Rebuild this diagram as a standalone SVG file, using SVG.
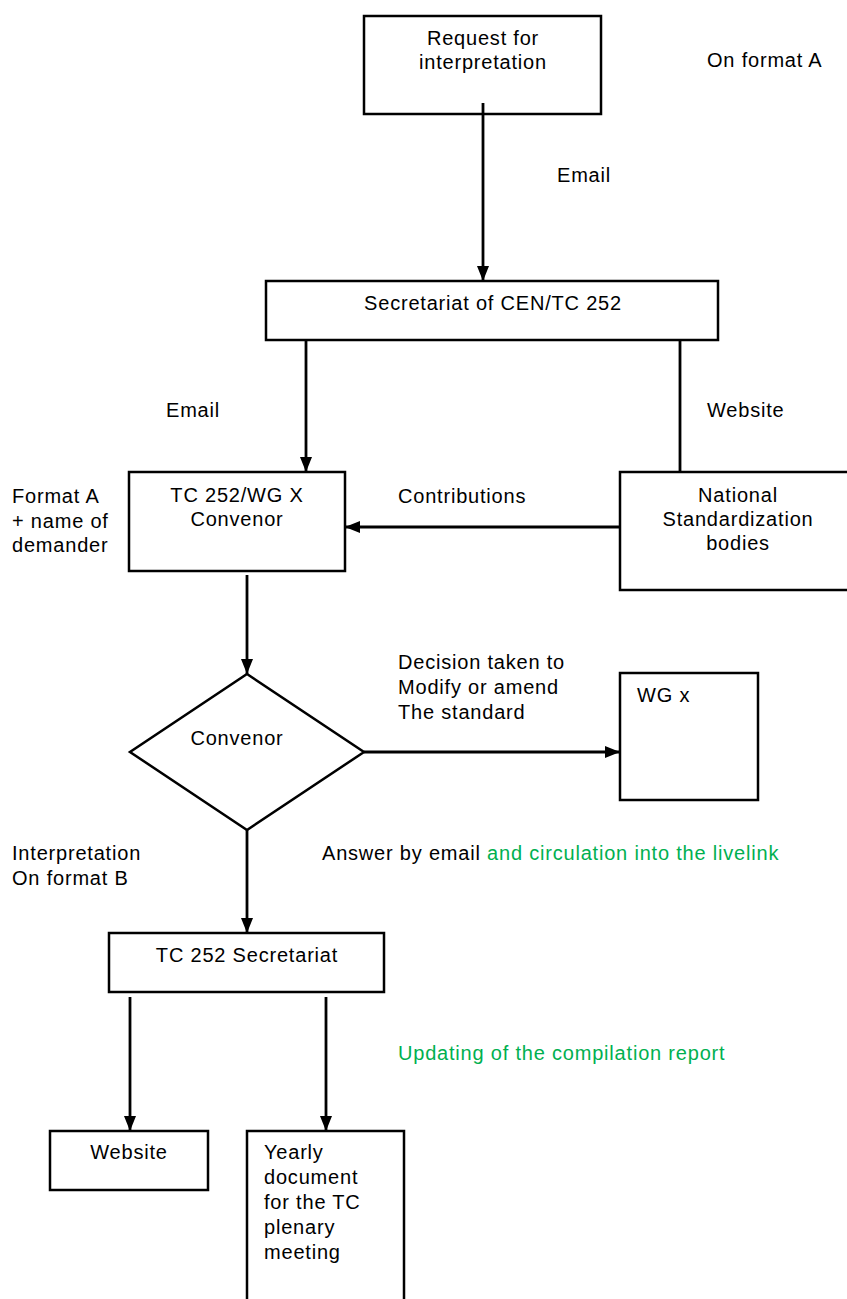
<svg xmlns="http://www.w3.org/2000/svg" width="847" height="1299" viewBox="0 0 847 1299">
<style>
  text { font-family: "Liberation Sans", Arial, sans-serif; font-size: 20px; letter-spacing: 0.8px; fill: #000; }
  .c { text-anchor: middle; }
  .g { fill: #00b050; }
  .box { fill: #fff; stroke: #000; stroke-width: 2.5; }
  .ln { fill: none; stroke: #000; stroke-width: 2.8; }
</style>
<defs>
  <marker id="ah" markerUnits="userSpaceOnUse" markerWidth="16" markerHeight="12" refX="15" refY="6" orient="auto">
    <path d="M0,0 L15,6 L0,12 z" fill="#000"/>
  </marker>
</defs>
<rect width="847" height="1299" fill="#fff"/>

<g id="request">
  <rect class="box" x="364" y="16" width="237" height="98"/>
  <text class="c" x="483" y="45">Request for</text>
  <text class="c" x="483" y="69">interpretation</text>
</g>
<text x="707" y="67">On format A</text>
<text x="557" y="182">Email</text>

<g id="secretariat-cen">
  <rect class="box" x="266" y="281" width="452" height="59"/>
  <text class="c" x="493" y="310">Secretariat of CEN/TC 252</text>
</g>
<text x="166" y="417">Email</text>
<text x="707" y="417">Website</text>

<g id="wg-convenor">
  <rect class="box" x="129" y="472" width="216" height="99"/>
  <text class="c" x="237" y="502">TC 252/WG X</text>
  <text class="c" x="237" y="526">Convenor</text>
</g>
<text x="12" y="503">Format A</text>
<text x="12" y="528">+ name of</text>
<text x="12" y="552">demander</text>
<text x="398" y="503">Contributions</text>

<g id="nsb">
  <rect class="box" x="620" y="472" width="240" height="118"/>
  <text class="c" x="738" y="502">National</text>
  <text class="c" x="738" y="526">Standardization</text>
  <text class="c" x="738" y="550">bodies</text>
</g>

<g id="convenor-decision">
  <polygon class="box" points="247,674 364,752 247,830 130,752"/>
  <text class="c" x="237" y="745">Convenor</text>
</g>
<text x="398" y="669">Decision taken to</text>
<text x="398" y="694">Modify or amend</text>
<text x="398" y="719">The standard</text>

<g id="wgx">
  <rect class="box" x="620" y="673" width="138" height="127"/>
  <text x="637" y="702">WG x</text>
</g>

<text x="12" y="860">Interpretation</text>
<text x="12" y="885">On format B</text>
<text x="322" y="860">Answer by email <tspan class="g">and circulation into the livelink</tspan></text>

<g id="tc-secretariat">
  <rect class="box" x="109" y="933" width="275" height="59"/>
  <text class="c" x="247" y="962">TC 252 Secretariat</text>
</g>
<text class="g" x="398" y="1060">Updating of the compilation report</text>

<g id="website">
  <rect class="box" x="50" y="1131" width="158" height="59"/>
  <text class="c" x="129" y="1159">Website</text>
</g>

<g id="yearly">
  <rect class="box" x="247" y="1131" width="157" height="180"/>
  <text x="264" y="1159">Yearly</text>
  <text x="264" y="1184">document</text>
  <text x="264" y="1209">for the TC</text>
  <text x="264" y="1234">plenary</text>
  <text x="264" y="1259">meeting</text>
</g>

<g id="connectors">
  <line class="ln" x1="483" y1="103" x2="483" y2="281" marker-end="url(#ah)"/>
  <line class="ln" x1="306" y1="340" x2="306" y2="472" marker-end="url(#ah)"/>
  <line class="ln" x1="680" y1="340" x2="680" y2="472"/>
  <line class="ln" x1="620" y1="527" x2="345" y2="527" marker-end="url(#ah)"/>
  <line class="ln" x1="247" y1="575" x2="247" y2="674" marker-end="url(#ah)"/>
  <line class="ln" x1="364" y1="752" x2="620" y2="752" marker-end="url(#ah)"/>
  <line class="ln" x1="247" y1="830" x2="247" y2="933" marker-end="url(#ah)"/>
  <line class="ln" x1="130" y1="997" x2="130" y2="1131" marker-end="url(#ah)"/>
  <line class="ln" x1="326" y1="997" x2="326" y2="1131" marker-end="url(#ah)"/>
</g>
</svg>
